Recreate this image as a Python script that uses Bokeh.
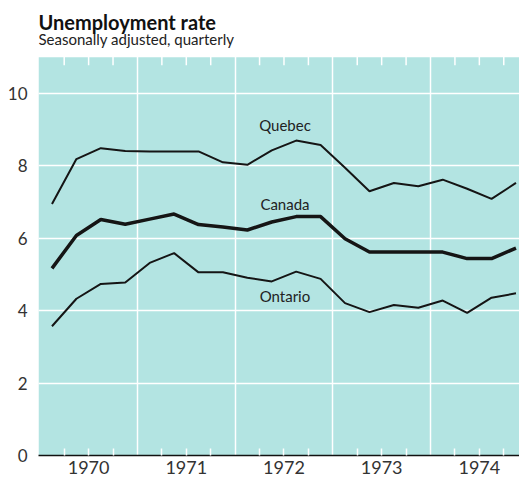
import math
from bokeh.plotting import figure
from bokeh.models import Range1d, FixedTicker, Label, BoxAnnotation
from bokeh.embed import file_html
from bokeh.resources import INLINE

# ---- data (quarterly, seasonally adjusted) ----
quarters = [1970.125 + 0.25 * i for i in range(20)]
quebec = [6.95, 8.19, 8.49, 8.41, 8.40, 8.40, 8.40, 8.10, 8.03, 8.43,
          8.70, 8.58, 7.95, 7.30, 7.53, 7.44, 7.62, 7.37, 7.09, 7.53]
canada = [5.17, 6.08, 6.52, 6.39, 6.53, 6.67, 6.38, 6.31, 6.23, 6.45,
          6.60, 6.60, 5.99, 5.62, 5.62, 5.62, 5.62, 5.44, 5.44, 5.73]
ontario = [3.57, 4.33, 4.74, 4.78, 5.32, 5.59, 5.06, 5.06, 4.91, 4.81,
           5.08, 4.88, 4.21, 3.96, 4.16, 4.08, 4.28, 3.94, 4.36, 4.48]
years = [1970, 1971, 1972, 1973, 1974]
y_ticks = [0, 2, 4, 6, 8, 10]
title = "Unemployment rate"
subtitle = "Seasonally adjusted, quarterly"

FONT = "Lato"
CYAN = "#b3e4e2"
PLOT_TOP = 11.0       # top of the shaded panel
X0, X1 = 1969.987, 1974.911
Y_MAX = 12.57         # extra room above the panel for the titles

p = figure(width=519, height=482, output_backend="svg", toolbar_location=None,
           x_range=Range1d(X0, X1), y_range=Range1d(0, Y_MAX),
           min_border_left=38, min_border_right=0, min_border_bottom=27,
           min_border_top=0, title=None)
p.background_fill_color = "white"
p.border_fill_color = "white"
p.outline_line_color = None

# shaded panel
p.add_layout(BoxAnnotation(bottom=0, top=PLOT_TOP, fill_color=CYAN,
                           fill_alpha=1, line_color=None, level="image"))

# grids
p.ygrid.ticker = FixedTicker(ticks=[2, 4, 6, 8, 10])
p.ygrid.grid_line_color = "white"
p.ygrid.grid_line_width = 1.5
p.xgrid.ticker = FixedTicker(ticks=[y + 1 for y in years[:-1]])
p.xgrid.grid_line_color = "white"
p.xgrid.grid_line_width = 1.5

# x axis (bottom)
mid = [y + 0.5 for y in years]
minor = [y + q for y in years for q in (0.25, 0.75)]
xa = p.xaxis[0]
xa.ticker = FixedTicker(ticks=mid, minor_ticks=minor)
xa.major_label_overrides = {m: str(y) for m, y in zip(mid, years)}
xa.major_tick_in = 7
xa.major_tick_out = 0
xa.minor_tick_in = 7
xa.minor_tick_out = 0
xa.major_tick_line_color = "white"
xa.minor_tick_line_color = "white"
xa.major_tick_line_width = 1.5
xa.minor_tick_line_width = 1.5
xa.axis_line_color = "#111111"
xa.axis_line_width = 1.6
xa.major_label_standoff = 5
xa.major_label_text_font = FONT
xa.major_label_text_font_size = "18px"
xa.major_label_text_color = "#333333"

# top ticks (white, pointing down into the panel)
p.scatter(mid + minor, [PLOT_TOP] * len(mid + minor), marker="dash",
          angle=math.pi / 2, size=16, line_color="white", line_width=1.5)

# y axis
ya = p.yaxis[0]
ya.ticker = FixedTicker(ticks=y_ticks)
ya.major_tick_in = 0
ya.major_tick_out = 0
ya.minor_tick_line_color = None
ya.axis_line_color = None
ya.major_label_standoff = 11
ya.major_label_text_font = FONT
ya.major_label_text_font_size = "17px"
ya.major_label_text_color = "#333333"

# lines
p.line(quarters, quebec, line_color="#151515", line_width=2)
p.line(quarters, canada, line_color="#151515", line_width=3.5)
p.line(quarters, ontario, line_color="#151515", line_width=2)

for txt, yy in (("Quebec", 9.14), ("Canada", 6.95), ("Ontario", 4.42)):
    p.add_layout(Label(x=1972.51, y=yy, text=txt, text_align="center",
                       text_baseline="middle", text_font=FONT,
                       text_font_size="15px", text_color="#222222"))

# titles
p.add_layout(Label(x=X0, y=11.98, text=title, text_align="left",
                   text_baseline="alphabetic", text_font=FONT,
                   text_font_size="20px", text_font_style="bold",
                   text_color="#111111"))
p.add_layout(Label(x=X0, y=11.51, text=subtitle, text_align="left",
                   text_baseline="alphabetic", text_font=FONT,
                   text_font_size="15px", text_color="#222222"))

open("out.html", "w").write(file_html(p, INLINE))
